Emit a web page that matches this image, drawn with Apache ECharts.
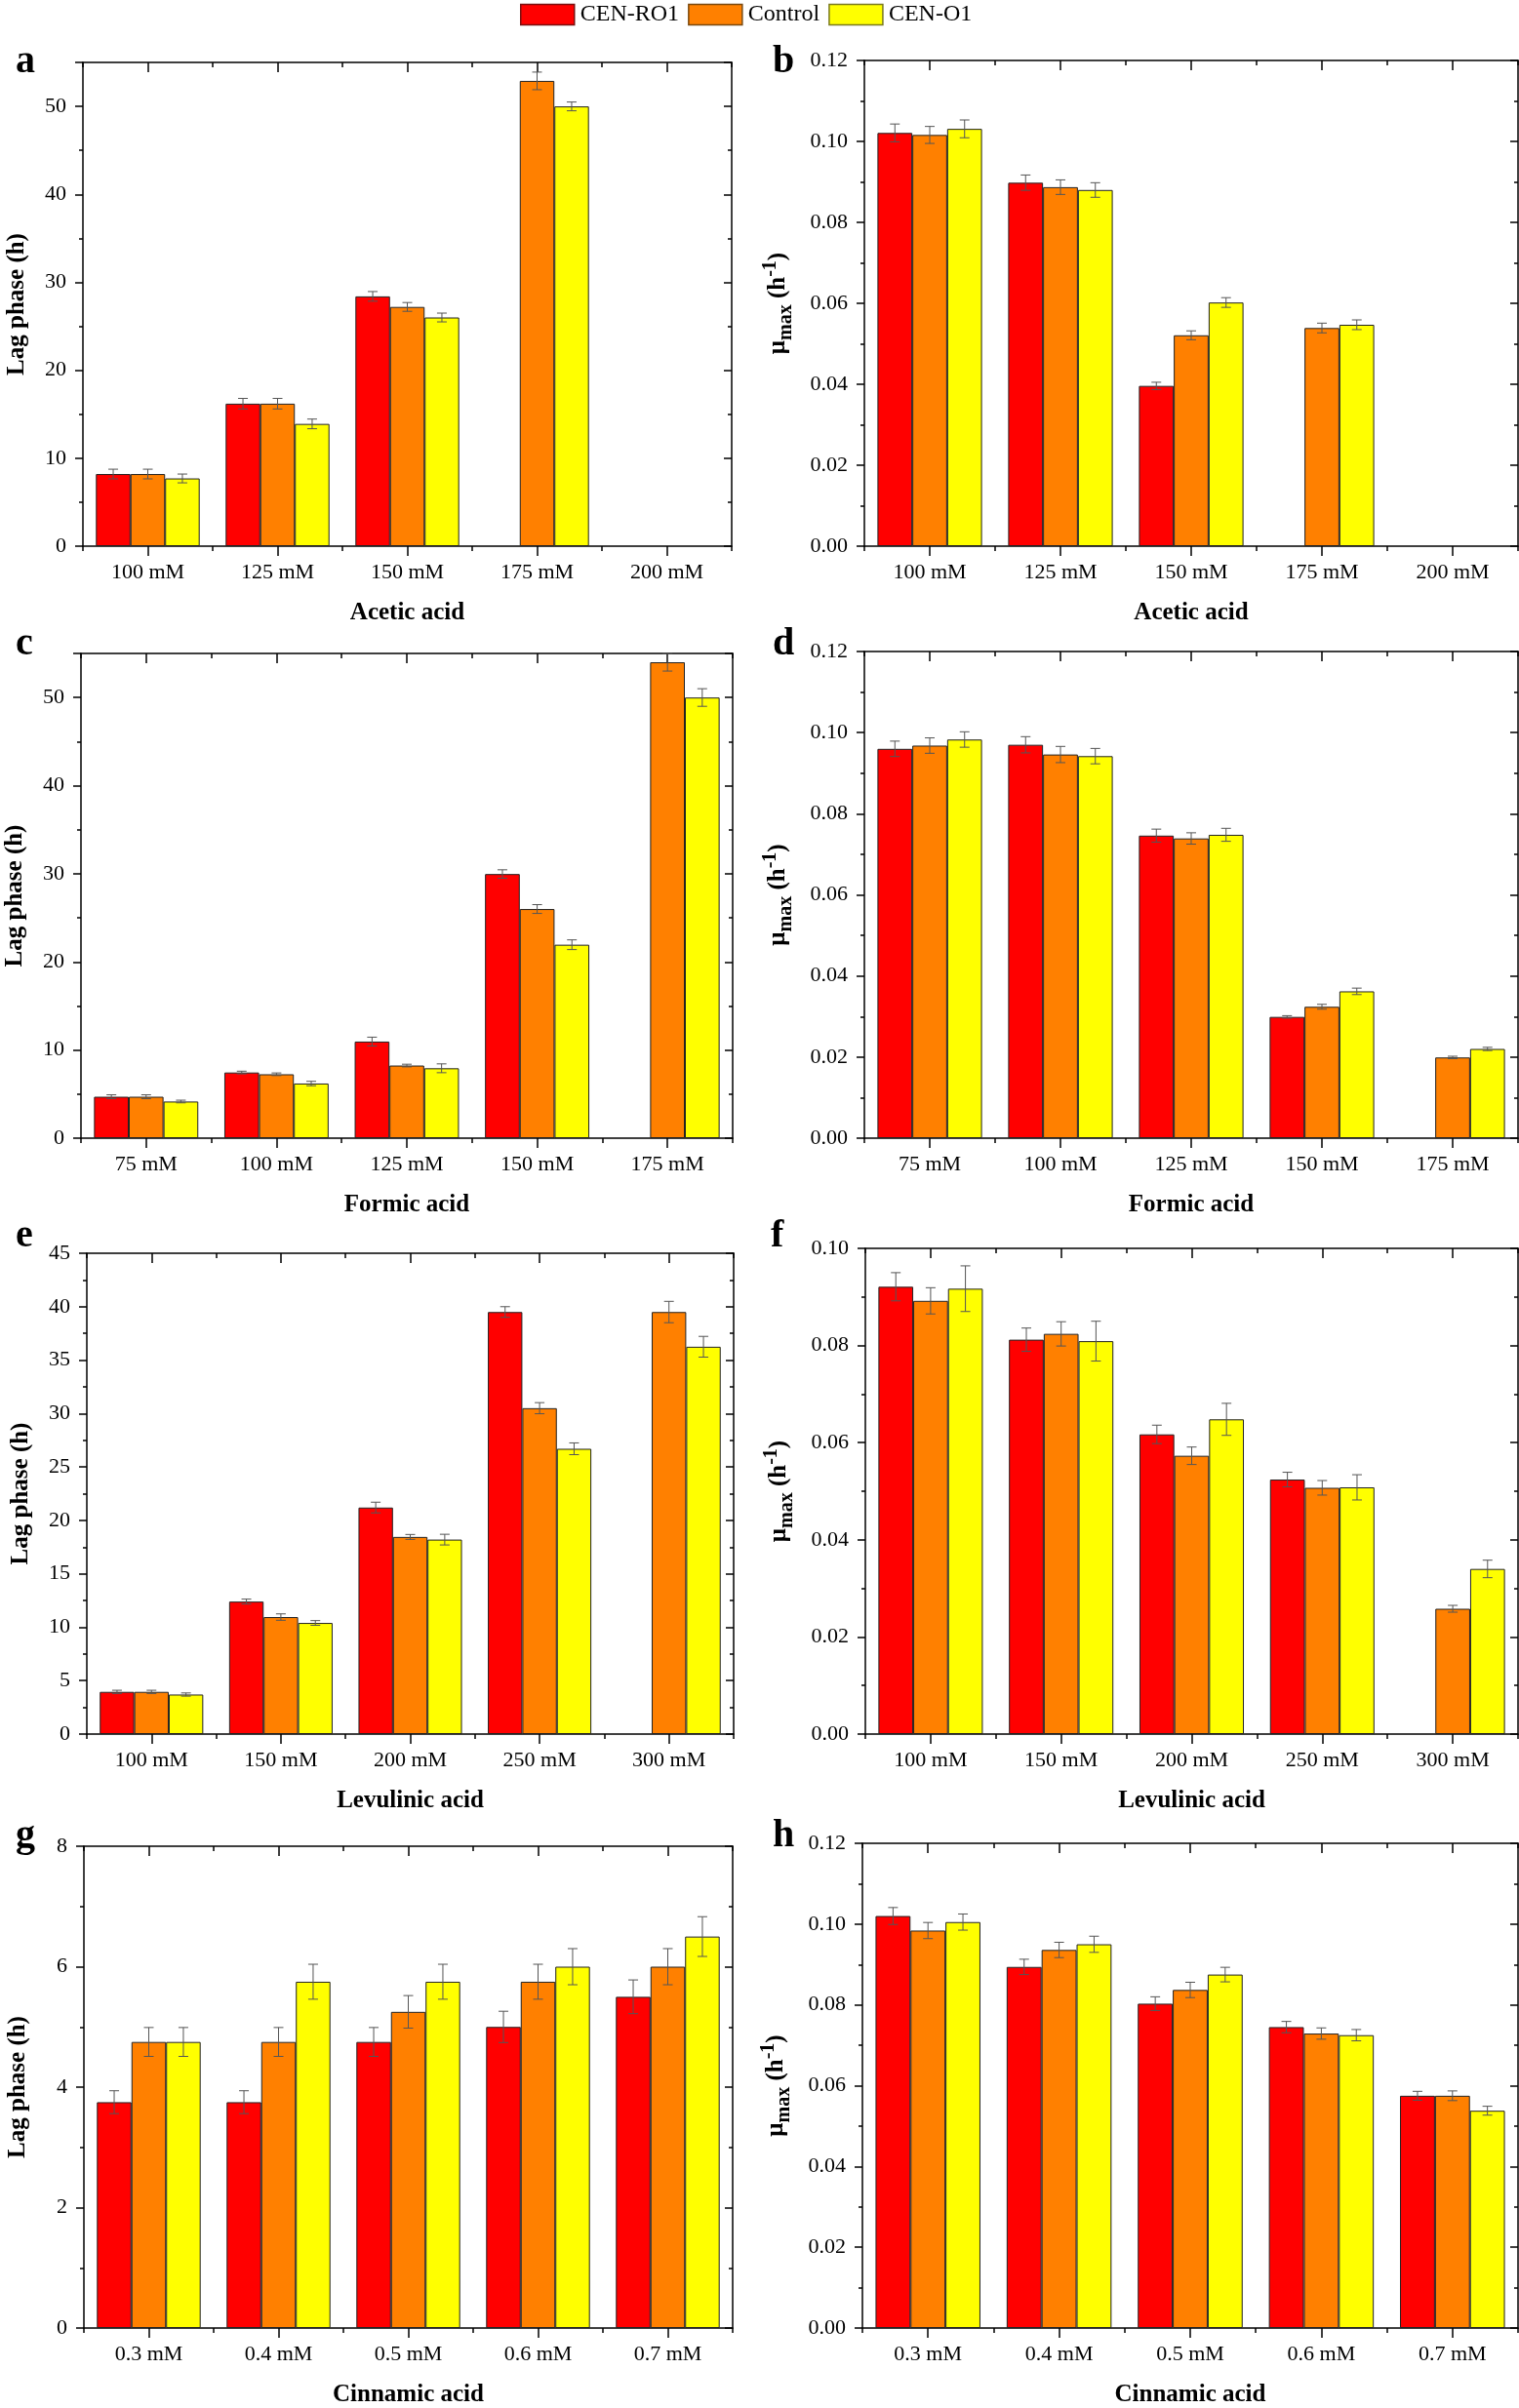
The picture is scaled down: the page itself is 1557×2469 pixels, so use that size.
<!DOCTYPE html>
<html>
<head>
<meta charset="utf-8">
<script src="https://cdn.jsdelivr.net/npm/echarts@6/dist/echarts.min.js"></script>
<style>
html,body{margin:0;padding:0;background:#fff;}
#chart{width:1557px;height:2469px;}
</style>
</head>
<body>
<div id="chart"></div>
<script>
// ---------- DATA ----------
const seriesNames = ['CEN-RO1', 'Control', 'CEN-O1'];

const catsAcetic = ['100 mM', '125 mM', '150 mM', '175 mM', '200 mM'];
const catsFormic = ['75 mM', '100 mM', '125 mM', '150 mM', '175 mM'];
const catsLevulinic = ['100 mM', '150 mM', '200 mM', '250 mM', '300 mM'];
const catsCinnamic = ['0.3 mM', '0.4 mM', '0.5 mM', '0.6 mM', '0.7 mM'];

// (a) Lag phase, acetic acid
const lagAceticRO1 = [8.2, 16.2, 28.4, null, null];
const lagAceticCtl = [8.2, 16.2, 27.2, 52.9, null];
const lagAceticO1  = [7.7, 13.9, 26.0, 50.0, null];
const lagAceticRO1Err = [0.55, 0.6, 0.55, null, null];
const lagAceticCtlErr = [0.55, 0.6, 0.5, 1.0, null];
const lagAceticO1Err  = [0.5, 0.55, 0.5, 0.5, null];

// (b) mu max, acetic acid
const muAceticRO1 = [0.1021, 0.0898, 0.0396, null, null];
const muAceticCtl = [0.1016, 0.0887, 0.0521, 0.0539, null];
const muAceticO1  = [0.1031, 0.0880, 0.0602, 0.0547, null];
const muAceticRO1Err = [0.0022, 0.0019, 0.0009, null, null];
const muAceticCtlErr = [0.0021, 0.0018, 0.0011, 0.0012, null];
const muAceticO1Err  = [0.0022, 0.0018, 0.0012, 0.0012, null];

// (c) Lag phase, formic acid
const lagFormicRO1 = [4.7, 7.45, 10.96, 29.97, null];
const lagFormicCtl = [4.7, 7.25, 8.24, 26.0, 54.0];
const lagFormicO1  = [4.16, 6.2, 7.93, 21.95, 50.0];
const lagFormicRO1Err = [0.22, 0.15, 0.5, 0.48, null];
const lagFormicCtlErr = [0.22, 0.15, 0.15, 0.5, 1.0];
const lagFormicO1Err  = [0.15, 0.25, 0.5, 0.55, 1.0];

// (d) mu max, formic acid
const muFormicRO1 = [0.0960, 0.0970, 0.0746, 0.0299, null];
const muFormicCtl = [0.0968, 0.0946, 0.0739, 0.0324, 0.0199];
const muFormicO1  = [0.0983, 0.0942, 0.0748, 0.0362, 0.0220];
const muFormicRO1Err = [0.0019, 0.0020, 0.0016, 0.0003, null];
const muFormicCtlErr = [0.0019, 0.0020, 0.0014, 0.0006, 0.0003];
const muFormicO1Err  = [0.0019, 0.0019, 0.0016, 0.0008, 0.0004];

// (e) Lag phase, levulinic acid
const lagLevRO1 = [3.95, 12.4, 21.2, 39.5, null];
const lagLevCtl = [3.95, 10.95, 18.45, 30.5, 39.5];
const lagLevO1  = [3.7, 10.4, 18.2, 26.7, 36.25];
const lagLevRO1Err = [0.15, 0.23, 0.5, 0.5, null];
const lagLevCtlErr = [0.15, 0.3, 0.23, 0.52, 1.0];
const lagLevO1Err  = [0.15, 0.22, 0.5, 0.55, 0.97];

// (f) mu max, levulinic acid
const muLevRO1 = [0.0921, 0.0812, 0.0617, 0.0524, null];
const muLevCtl = [0.0892, 0.0824, 0.0573, 0.0507, 0.0258];
const muLevO1  = [0.0917, 0.0809, 0.0648, 0.0508, 0.0340];
const muLevRO1Err = [0.0029, 0.0024, 0.0019, 0.0015, null];
const muLevCtlErr = [0.0027, 0.0025, 0.0018, 0.0015, 0.0007];
const muLevO1Err  = [0.0047, 0.0041, 0.0033, 0.0026, 0.0018];

// (g) Lag phase, cinnamic acid
const lagCinRO1 = [3.75, 3.75, 4.75, 5.0, 5.5];
const lagCinCtl = [4.75, 4.75, 5.25, 5.75, 6.0];
const lagCinO1  = [4.75, 5.75, 5.75, 6.0, 6.5];
const lagCinRO1Err = [0.19, 0.19, 0.24, 0.26, 0.28];
const lagCinCtlErr = [0.24, 0.24, 0.27, 0.29, 0.3];
const lagCinO1Err  = [0.24, 0.29, 0.29, 0.3, 0.33];

// (h) mu max, cinnamic acid
const muCinRO1 = [0.1020, 0.0894, 0.0803, 0.0745, 0.0575];
const muCinCtl = [0.0984, 0.0936, 0.0837, 0.0729, 0.0575];
const muCinO1  = [0.1005, 0.0950, 0.0875, 0.0725, 0.0538];
const muCinRO1Err = [0.0021, 0.0019, 0.0017, 0.0014, 0.0011];
const muCinCtlErr = [0.0020, 0.0019, 0.0019, 0.0014, 0.0012];
const muCinO1Err  = [0.0020, 0.0020, 0.0018, 0.0014, 0.0011];

// y-axis settings
const yLagAcetic = {max: 55, interval: 10};
const yMuAcetic = {max: 0.12, interval: 0.02};
const yLagFormic = {max: 55, interval: 10};
const yMuFormic = {max: 0.12, interval: 0.02};
const yLagLev = {max: 45, interval: 5};
const yMuLev = {max: 0.10, interval: 0.02};
const yLagCin = {max: 8, interval: 2};
const yMuCin = {max: 0.12, interval: 0.02};

// ---------- STYLE ----------
const FONT = "'Liberation Serif', 'Times New Roman', serif";
const colors = ['#FF0000', '#FF8000', '#FFFF00'];
const legendBorders = ['#7a1010', '#7a4a10', '#7a7a20'];

const panels = [
  {letter: 'a', grid: {left: 85, top: 64, width: 665, height: 496}, cats: catsAcetic, vals: [lagAceticRO1, lagAceticCtl, lagAceticO1], errs: [lagAceticRO1Err, lagAceticCtlErr, lagAceticO1Err], y: yLagAcetic, kind: 'lag', xName: 'Acetic acid', lx: 16, ly: 44},
  {letter: 'b', grid: {left: 886, top: 62, width: 670, height: 498}, cats: catsAcetic, vals: [muAceticRO1, muAceticCtl, muAceticO1], errs: [muAceticRO1Err, muAceticCtlErr, muAceticO1Err], y: yMuAcetic, kind: 'mu', xName: 'Acetic acid', lx: 792, ly: 44},
  {letter: 'c', grid: {left: 83, top: 670, width: 668, height: 497}, cats: catsFormic, vals: [lagFormicRO1, lagFormicCtl, lagFormicO1], errs: [lagFormicRO1Err, lagFormicCtlErr, lagFormicO1Err], y: yLagFormic, kind: 'lag', xName: 'Formic acid', lx: 16, ly: 641},
  {letter: 'd', grid: {left: 886, top: 668, width: 670, height: 499}, cats: catsFormic, vals: [muFormicRO1, muFormicCtl, muFormicO1], errs: [muFormicRO1Err, muFormicCtlErr, muFormicO1Err], y: yMuFormic, kind: 'mu', xName: 'Formic acid', lx: 792, ly: 641},
  {letter: 'e', grid: {left: 89, top: 1285, width: 663, height: 493}, cats: catsLevulinic, vals: [lagLevRO1, lagLevCtl, lagLevO1], errs: [lagLevRO1Err, lagLevCtlErr, lagLevO1Err], y: yLagLev, kind: 'lag', xName: 'Levulinic acid', lx: 16, ly: 1248},
  {letter: 'f', grid: {left: 887, top: 1280, width: 669, height: 498}, cats: catsLevulinic, vals: [muLevRO1, muLevCtl, muLevO1], errs: [muLevRO1Err, muLevCtlErr, muLevO1Err], y: yMuLev, kind: 'mu', xName: 'Levulinic acid', lx: 790, ly: 1248},
  {letter: 'g', grid: {left: 86, top: 1893, width: 665, height: 496}, cats: catsCinnamic, vals: [lagCinRO1, lagCinCtl, lagCinO1], errs: [lagCinRO1Err, lagCinCtlErr, lagCinO1Err], y: yLagCin, kind: 'lag', xName: 'Cinnamic acid', lx: 16, ly: 1863},
  {letter: 'h', grid: {left: 884, top: 1890, width: 672, height: 500}, cats: catsCinnamic, vals: [muCinRO1, muCinCtl, muCinO1], errs: [muCinRO1Err, muCinCtlErr, muCinO1Err], y: yMuCin, kind: 'mu', xName: 'Cinnamic acid', lx: 792, ly: 1863}
];

const AX = '#000';
const grids = [], xAxes = [], yAxes = [], series = [], graphics = [];

function errRender(k) {
  return function (params, api) {
    const j = api.value(0), v = api.value(1), e = api.value(2);
    const base = api.coord([j, v]);
    const bw = api.size([1, 0])[0] * 0.8 / 3;
    const cx = base[0] + (k - 1) * bw;
    const yt = api.coord([j, v + e])[1];
    const yb = api.coord([j, v - e])[1];
    const cap = 5;
    const st = {stroke: '#555', lineWidth: 1};
    return {type: 'group', children: [
      {type: 'line', shape: {x1: cx, y1: yt, x2: cx, y2: yb}, style: st},
      {type: 'line', shape: {x1: cx - cap, y1: yt, x2: cx + cap, y2: yt}, style: st},
      {type: 'line', shape: {x1: cx - cap, y1: yb, x2: cx + cap, y2: yb}, style: st}
    ]};
  };
}

panels.forEach(function (p, i) {
  grids.push(Object.assign({containLabel: false}, p.grid));
  const lineStyle = {color: AX, width: 1.5};
  xAxes.push({
    type: 'category', gridIndex: i, position: 'bottom', data: p.cats,
    axisLine: {show: true, onZero: false, lineStyle: lineStyle},
    axisTick: {show: true, alignWithLabel: true, length: 10, lineStyle: {color: AX, width: 1.5}},
    axisLabel: {interval: 0, margin: 16, color: '#000', fontFamily: FONT, fontSize: 22},
    name: p.xName, nameLocation: 'middle', nameGap: 56,
    nameTextStyle: {color: '#000', fontFamily: FONT, fontSize: 25, fontWeight: 'bold'},
    splitLine: {show: false}
  });
  xAxes.push({
    type: 'category', gridIndex: i, position: 'bottom', data: p.cats,
    axisLine: {show: false, onZero: false},
    axisTick: {show: true, alignWithLabel: false, length: 5, lineStyle: {color: AX, width: 1.5}},
    axisLabel: {show: false}, splitLine: {show: false}
  });
  xAxes.push({
    type: 'category', gridIndex: i, position: 'top', data: p.cats,
    axisLine: {show: true, onZero: false, lineStyle: lineStyle},
    axisTick: {show: true, inside: true, alignWithLabel: true, length: 10, lineStyle: {color: AX, width: 1.5}},
    axisLabel: {show: false}, splitLine: {show: false}
  });
  xAxes.push({
    type: 'category', gridIndex: i, position: 'top', data: p.cats,
    axisLine: {show: false, onZero: false},
    axisTick: {show: true, inside: true, alignWithLabel: false, length: 5, lineStyle: {color: AX, width: 1.5}},
    axisLabel: {show: false}, splitLine: {show: false}
  });

  const isMu = p.kind === 'mu';
  const yName = isMu ? '{m|μ}{s|max}{m| (h}{p|-1}{m|)}' : 'Lag phase (h)';
  const ratio = p.y.max / p.y.interval;
  yAxes.push({
    type: 'value', gridIndex: i, position: 'left', min: 0, max: p.y.max, interval: p.y.interval,
    axisLine: {show: true, onZero: false, lineStyle: lineStyle},
    axisTick: {show: true, length: 8, lineStyle: {color: AX, width: 1.5}},
    minorTick: {show: true, splitNumber: 2, length: 4, lineStyle: {color: AX, width: 1.5}},
    splitLine: {show: false},
    axisLabel: {
      color: '#000', fontFamily: FONT, fontSize: 22, margin: 17,
      showMaxLabel: Math.abs(ratio - Math.round(ratio)) < 1e-6,
      formatter: isMu ? function (v) { return v.toFixed(2); } : function (v) { return String(Math.round(v)); }
    },
    name: yName, nameLocation: 'middle', nameGap: isMu ? 70 : 55, nameRotate: 90,
    nameTextStyle: {
      color: '#000', fontFamily: FONT, fontSize: 25, fontWeight: 'bold',
      rich: {
        m: {fontFamily: FONT, fontSize: 25, fontWeight: 'bold', color: '#000', lineHeight: 36},
        s: {fontFamily: FONT, fontSize: 20, fontWeight: 'bold', color: '#000', verticalAlign: 'bottom', lineHeight: 18},
        p: {fontFamily: FONT, fontSize: 20, fontWeight: 'bold', color: '#000', verticalAlign: 'top', lineHeight: 18}
      }
    }
  });
  yAxes.push({
    type: 'value', gridIndex: i, position: 'right', min: 0, max: p.y.max, interval: p.y.interval,
    axisLine: {show: true, onZero: false, lineStyle: lineStyle},
    axisTick: {show: true, inside: true, length: 8, lineStyle: {color: AX, width: 1.5}},
    minorTick: {show: true, splitNumber: 2, length: 4, lineStyle: {color: AX, width: 1.5}},
    splitLine: {show: false}, axisLabel: {show: false}
  });

  for (let k = 0; k < 3; k++) {
    series.push({
      type: 'bar', name: seriesNames[k], xAxisIndex: 4 * i, yAxisIndex: 2 * i,
      data: p.vals[k].map(function (v) { return v == null ? '-' : v; }),
      barCategoryGap: '20%', barGap: '0%',
      itemStyle: {color: colors[k], borderColor: '#222', borderWidth: 1},
      emphasis: {disabled: true}, animation: false, z: 2
    });
  }
  for (let k = 0; k < 3; k++) {
    const d = [];
    p.vals[k].forEach(function (v, j) {
      if (v != null && p.errs[k][j] != null) d.push([j, v, p.errs[k][j]]);
    });
    series.push({
      type: 'custom', name: seriesNames[k], xAxisIndex: 4 * i, yAxisIndex: 2 * i,
      renderItem: errRender(k), data: d, encode: {x: 0, y: 1},
      z: 5, animation: false, silent: true
    });
  }

  graphics.push({
    type: 'text', left: p.lx, top: p.ly,
    style: {text: p.letter, fill: '#000', font: 'bold 40px ' + FONT}
  });
});

const chart = echarts.init(document.getElementById('chart'), null, {renderer: 'canvas'});
chart.setOption({
  backgroundColor: '#fff',
  animation: false,
  textStyle: {fontFamily: FONT},
  legend: {
    data: seriesNames.map(function (n, k) {
      return {name: n, itemStyle: {color: colors[k], borderColor: legendBorders[k], borderWidth: 1.5}};
    }),
    left: 533, top: 3, padding: 0,
    itemWidth: 55, itemHeight: 21, itemGap: 9,
    icon: 'rect',
    textStyle: {color: '#000', fontFamily: FONT, fontSize: 24, padding: [0, 0, 0, 1]}
  },
  grid: grids,
  xAxis: xAxes,
  yAxis: yAxes,
  series: series,
  graphic: graphics
});
</script>
</body>
</html>
